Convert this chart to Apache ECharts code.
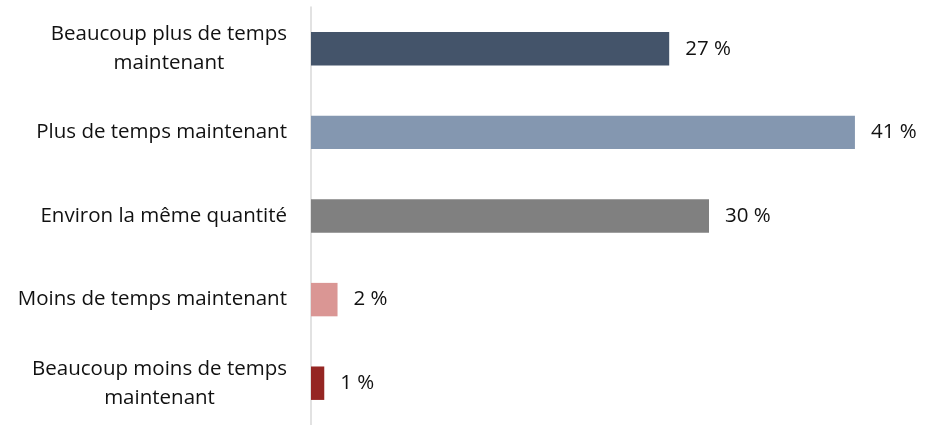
<!DOCTYPE html>
<html>
<head>
<meta charset="utf-8">
<script src="https://cdn.jsdelivr.net/npm/echarts@6/dist/echarts.min.js"></script>
<style>
  html, body { margin: 0; padding: 0; background: #fff; }
  #chart { width: 928px; height: 425px; }
</style>
</head>
<body>
<div id="chart"></div>
<script>
  // données
  const categories = [
    'Beaucoup plus de temps\nmaintenant',
    'Plus de temps maintenant',
    'Environ la même quantité',
    'Moins de temps maintenant',
    'Beaucoup moins de temps\nmaintenant'
  ];
  const values = [27, 41, 30, 2, 1];
  const barColors = ['#44546A', '#8497B0', '#808080', '#DA9694', '#952623'];

  const chart = echarts.init(document.getElementById('chart'));
  chart.setOption({
    animation: false,
    textStyle: { fontFamily: 'Open Sans' },
    grid: { left: 311, top: 7, width: 597, height: 421 },
    xAxis: {
      type: 'value',
      min: 0,
      max: 45,
      show: false
    },
    yAxis: {
      type: 'category',
      inverse: true,
      data: categories,
      axisLine: { lineStyle: { color: '#d9d9d9', width: 1.5 } },
      axisTick: { show: false },
      axisLabel: {
        margin: 24,
        color: '#111',
        fontSize: 20.5,
        lineHeight: 29,
        // lignes centrées entre elles, bloc aligné à droite
        formatter: (v) => v.split('\n').map(s => '{c|' + s + '}').join('\n'),
        rich: {
          c: { align: 'center', fontSize: 20.5, lineHeight: 29, color: '#111', fontFamily: 'Open Sans' }
        }
      }
    },
    series: [{
      type: 'bar',
      data: values,
      barCategoryGap: '60%',
      itemStyle: {
        color: (p) => barColors[p.dataIndex]
      },
      label: {
        show: true,
        position: 'right',
        distance: 16,
        color: '#111',
        fontSize: 20.5,
        fontFamily: 'Open Sans',
        formatter: '{c} %'
      }
    }]
  });
</script>
</body>
</html>
